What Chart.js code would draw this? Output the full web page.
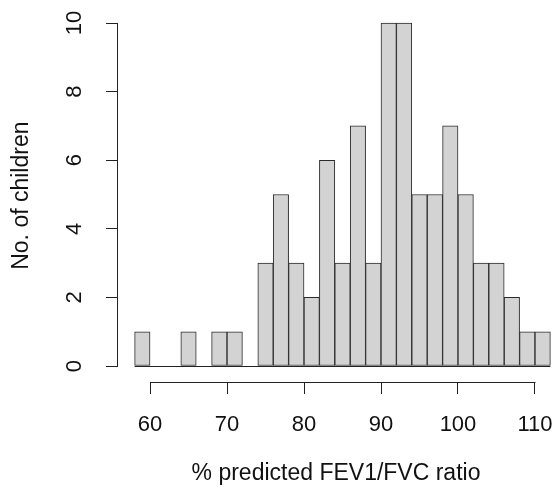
<!DOCTYPE html>
<html><head><meta charset="utf-8">
<script src="https://cdn.jsdelivr.net/npm/chart.js@4"></script>
<style>html,body{margin:0;padding:0;background:#fff}canvas{display:block}</style>
</head><body>
<canvas id="c" width="554" height="494"></canvas>
<script>
// Histogram bins (left edges), bin width, and counts
const binStarts = [58,60,62,64,66,68,70,72,74,76,78,80,82,84,86,88,90,92,94,96,98,100,102,104,106,108,110];
const binWidth = 2;
const counts    = [1,0,0,1,0,1,1,0,3,5,3,2,6,3,7,3,10,10,5,5,7,5,3,3,2,1,1];
const xTicks = [60,70,80,90,100,110];
const yTicks = [0,2,4,6,8,10];
const xTitle = '% predicted FEV1/FVC ratio';
const yTitle = 'No. of children';

const FONT = "'Liberation Sans', Arial, sans-serif";
const AXIS_COLOR = '#222';
const TEXT_COLOR = '#111';

const points = binStarts.map((s, i) => ({ x: s + binWidth / 2, y: counts[i] }));

const rAxes = {
  id: 'rAxes',
  beforeDatasetsDraw(chart) {
    const { ctx, scales: { x, y } } = chart;
    const y0 = Math.round(y.getPixelForValue(0)) + 0.5;
    ctx.save();
    ctx.strokeStyle = AXIS_COLOR; ctx.lineWidth = 1;
    ctx.beginPath();
    ctx.moveTo(x.getPixelForValue(binStarts[0]), y0);
    ctx.lineTo(x.getPixelForValue(binStarts[binStarts.length - 1] + binWidth), y0);
    ctx.stroke();
    ctx.restore();
  },
  afterDraw(chart) {
    const { ctx, chartArea, scales: { x, y } } = chart;
    ctx.save();
    ctx.strokeStyle = AXIS_COLOR; ctx.lineWidth = 1;
    const by = Math.round(chartArea.bottom) + 0.5;
    ctx.beginPath();
    ctx.moveTo(Math.round(x.getPixelForValue(x.ticks[0].value)) + 0.5, by);
    ctx.lineTo(Math.round(x.getPixelForValue(x.ticks[x.ticks.length - 1].value)) + 0.5, by);
    ctx.stroke();
    const lx = Math.round(chartArea.left) - 0.5;
    ctx.beginPath();
    ctx.moveTo(lx, Math.round(y.getPixelForValue(y.ticks[0].value)) + 0.5);
    ctx.lineTo(lx, Math.round(y.getPixelForValue(y.ticks[y.ticks.length - 1].value)) + 0.5);
    ctx.stroke();
    ctx.fillStyle = TEXT_COLOR;
    ctx.font = "22px " + FONT;
    ctx.textAlign = 'center';
    ctx.textBaseline = 'middle';
    y.ticks.forEach(t => {
      const py = y.getPixelForValue(t.value);
      ctx.save();
      ctx.translate(75, py);
      ctx.rotate(-Math.PI / 2);
      ctx.fillText(String(t.value), 0, 0);
      ctx.restore();
    });
    ctx.restore();
  }
};

new Chart(document.getElementById('c'), {
  type: 'bar',
  data: {
    datasets: [{
      data: points,
      backgroundColor: '#d3d3d3',
      borderColor: '#2a2a2a',
      borderWidth: 1,
      borderSkipped: false,
      barPercentage: 1,
      categoryPercentage: 1,
      grouped: false
    }]
  },
  options: {
    responsive: false,
    animation: false,
    events: [],
    layout: { padding: { left: 0, top: 9.3, right: 0, bottom: 0 } },
    plugins: { legend: { display: false }, tooltip: { enabled: false } },
    scales: {
      x: {
        type: 'linear',
        offset: false,
        min: 55.84, max: 112.47,
        afterBuildTicks: s => { s.ticks = xTicks.map(v => ({ value: v })); },
        afterFit: s => { s.height = 112; s.paddingRight = 0; },
        border: { display: false },
        grid: { display: true, offset: false, drawOnChartArea: false, drawTicks: true, tickLength: 12, color: AXIS_COLOR, lineWidth: 1 },
        ticks: { color: TEXT_COLOR, font: { family: FONT, size: 22 }, padding: 18, maxRotation: 0, autoSkip: false },
        title: { display: true, text: xTitle, color: TEXT_COLOR, font: { family: FONT, size: 23 }, padding: { top: 0, bottom: 7 } }
      },
      y: {
        type: 'linear',
        min: -0.466, max: 10.4,
        afterBuildTicks: s => { s.ticks = yTicks.map(v => ({ value: v })); },
        afterFit: s => { s.width = 118; },
        border: { display: false },
        grid: { display: true, drawOnChartArea: false, drawTicks: true, tickLength: 12, color: AXIS_COLOR, lineWidth: 1 },
        ticks: { display: false },
        title: { display: true, text: yTitle, color: TEXT_COLOR, font: { family: FONT, size: 23 }, padding: { top: 8, bottom: 0 } }
      }
    }
  },
  plugins: [rAxes]
});
</script>
</body></html>
